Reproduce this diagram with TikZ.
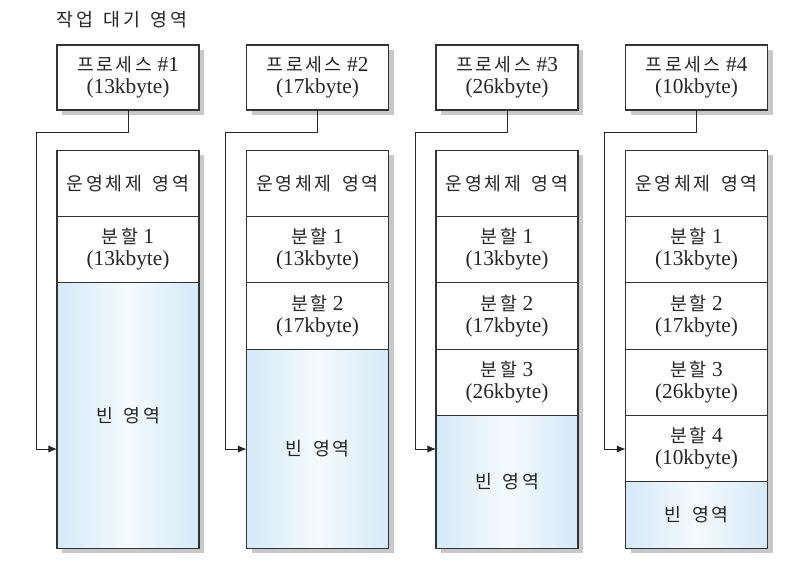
\documentclass[tikz,border=0pt]{standalone}
\usepackage{fontspec}
\setmainfont{Liberation Serif}
\newfontfamily\kor{Noto Sans CJK KR}[Scale=0.86, LetterSpace=14, WordSpace=1.6]
\usepackage{tikz}
\usetikzlibrary{arrows.meta, positioning}

\definecolor{freeedge}{HTML}{D4E9F7}
\definecolor{freemid}{HTML}{F5FAFE}
\definecolor{shadowgray}{HTML}{C8C8C8}

\begin{document}
\begin{tikzpicture}[
    x=0.75pt, y=-0.75pt,
    cell/.style={rectangle, draw=black!80, line width=0.8pt, fill=white, outer sep=0pt, inner sep=0pt,
        minimum width=106.5pt, minimum height=#1, align=center, text=black!85,
        font=\fontsize{16}{16.5}\selectfont},
    cell/.default=49.75pt,
    free/.style={cell=#1, left color=freeedge, right color=freeedge, middle color=freemid},
    shadowbox/.style={fill=shadowgray},
    arrow/.style={-{Latex[length=6.5pt, width=5.5pt]}, line width=0.7pt, black!85}
]
\useasboundingbox (0,0) rectangle (796,565);

% Shadows (drawn first, under the boxes)
\fill[shadowbox] (62,50) rectangle (204,115);
\fill[shadowbox] (251.5,50) rectangle (393.5,115);
\fill[shadowbox] (441,50) rectangle (583,115);
\fill[shadowbox] (630.5,50) rectangle (772.5,115);
\fill[shadowbox] (62,155) rectangle (204,553);
\fill[shadowbox] (251.5,155) rectangle (393.5,553);
\fill[shadowbox] (441,155) rectangle (583,553);
\fill[shadowbox] (630.5,155) rectangle (772.5,553);

% Waiting area
\node[anchor=west, text=black!85, font=\fontsize{16}{16.5}\selectfont] (title) at (52,20) {\kor 작업 대기 영역};

\node[cell=48.75pt] (proc1) at (128,77.5) {{\kor 프로세스} \#1\\(13kbyte)};
\node[cell=48.75pt] (proc2) at (317.5,77.5) {{\kor 프로세스} \#2\\(17kbyte)};
\node[cell=48.75pt] (proc3) at (507,77.5) {{\kor 프로세스} \#3\\(26kbyte)};
\node[cell=48.75pt] (proc4) at (696.5,77.5) {{\kor 프로세스} \#4\\(10kbyte)};

% Memory after process 1
\node[cell] (os1) at (128,183.2) {\kor 운영체제 영역};
\node[cell, below=0pt of os1] (part11) {{\kor 분할} 1\\(13kbyte)};
\node[free=199pt, below=0pt of part11] (free1) {\kor 빈 영역};

% Memory after process 2
\node[cell] (os2) at (317.5,183.2) {\kor 운영체제 영역};
\node[cell, below=0pt of os2] (part21) {{\kor 분할} 1\\(13kbyte)};
\node[cell, below=0pt of part21] (part22) {{\kor 분할} 2\\(17kbyte)};
\node[free=149.25pt, below=0pt of part22] (free2) {\kor 빈 영역};

% Memory after process 3
\node[cell] (os3) at (507,183.2) {\kor 운영체제 영역};
\node[cell, below=0pt of os3] (part31) {{\kor 분할} 1\\(13kbyte)};
\node[cell, below=0pt of part31] (part32) {{\kor 분할} 2\\(17kbyte)};
\node[cell, below=0pt of part32] (part33) {{\kor 분할} 3\\(26kbyte)};
\node[free=99.5pt, below=0pt of part33] (free3) {\kor 빈 영역};

% Memory after process 4
\node[cell] (os4) at (696.5,183.2) {\kor 운영체제 영역};
\node[cell, below=0pt of os4] (part41) {{\kor 분할} 1\\(13kbyte)};
\node[cell, below=0pt of part41] (part42) {{\kor 분할} 2\\(17kbyte)};
\node[cell, below=0pt of part42] (part43) {{\kor 분할} 3\\(26kbyte)};
\node[cell, below=0pt of part43] (part44) {{\kor 분할} 4\\(10kbyte)};
\node[free=49.75pt, below=0pt of part44] (free4) {\kor 빈 영역};

% Allocation arrows
\coordinate (bend1) at (36,132);
\coordinate (turn1) at (36,449);
\coordinate (bend2) at (225,132);
\coordinate (turn2) at (225,449);
\coordinate (bend3) at (415,132);
\coordinate (turn3) at (415,449);
\coordinate (bend4) at (604,132);
\coordinate (turn4) at (604,449);

\draw[arrow] (proc1.south) |- (bend1) -- (turn1) -- (free1.west |- turn1);
\draw[arrow] (proc2.south) |- (bend2) -- (turn2) -- (free2.west |- turn2);
\draw[arrow] (proc3.south) |- (bend3) -- (turn3) -- (free3.west |- turn3);
\draw[arrow] (proc4.south) |- (bend4) -- (turn4) -- (part44.west |- turn4);

\end{tikzpicture}
\end{document}
